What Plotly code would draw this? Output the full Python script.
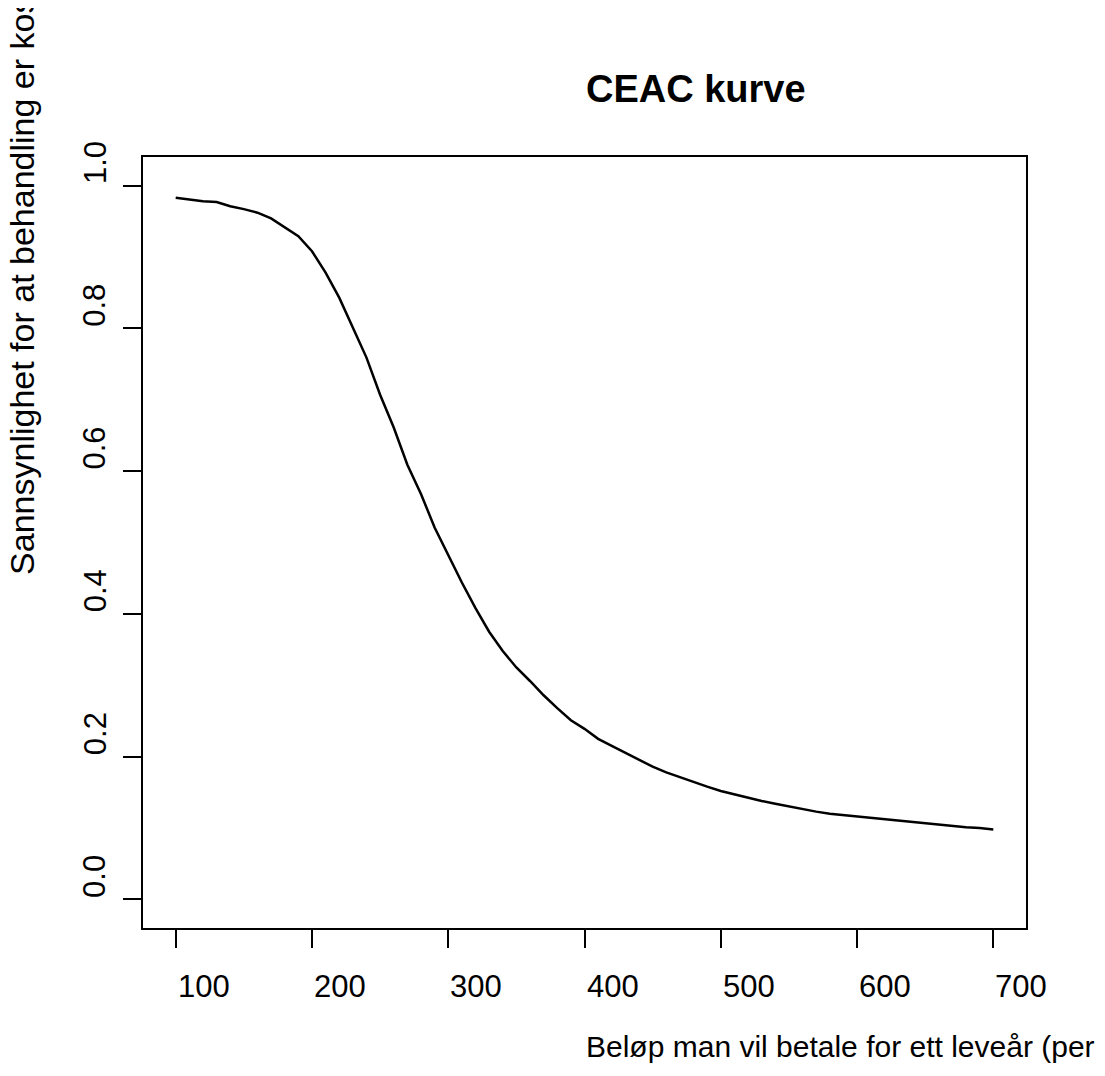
import plotly.graph_objects as go

# betalingsvilje (x) og sannsynlighet for kostnadseffektiv behandling (y)
wtp = [100, 110, 120, 130, 140, 150, 160, 170, 180, 190,
       200, 210, 220, 230, 240, 250, 260, 270, 280, 290,
       300, 310, 320, 330, 340, 350, 360, 370, 380, 390,
       400, 410, 420, 430, 440, 450, 460, 470, 480, 490,
       500, 510, 520, 530, 540, 550, 560, 570, 580, 590,
       600, 610, 620, 630, 640, 650, 660, 670, 680, 690, 700]
prob = [0.983, 0.980, 0.978, 0.977, 0.971, 0.967, 0.962, 0.954, 0.941, 0.929,
        0.908, 0.878, 0.843, 0.800, 0.759, 0.707, 0.661, 0.609, 0.568, 0.521,
        0.482, 0.444, 0.408, 0.375, 0.348, 0.325, 0.306, 0.286, 0.268, 0.251,
        0.239, 0.225, 0.215, 0.205, 0.195, 0.186, 0.178, 0.171, 0.165, 0.158,
        0.152, 0.147, 0.142, 0.138, 0.134, 0.130, 0.127, 0.123, 0.120, 0.118,
        0.116, 0.114, 0.112, 0.110, 0.108, 0.106, 0.104, 0.102, 0.101, 0.100, 0.098]

x_ticks = [100, 200, 300, 400, 500, 600, 700]
x_ticktext = ["100", "200", "300", "400", "500", "600", "700"]
y_ticks = [0.0, 0.2, 0.4, 0.6, 0.8, 1.0]
y_ticktext = ["0.0", "0.2", "0.4", "0.6", "0.8", "1.0"]

title = "CEAC kurve"
xlab = "Beløp man vil betale for ett leveår (per"
ylab = "Sannsynlighet for at behandling er kostnadseffektiv"

font = "Liberation Sans, Arial, sans-serif"

fig = go.Figure()
fig.add_trace(go.Scatter(x=wtp, y=prob, mode="lines",
                         line=dict(color="black", width=2.5), showlegend=False))

axis_common = dict(showgrid=False, zeroline=False, showline=True, mirror=True,
                   linecolor="black", linewidth=2, ticks="outside", ticklen=18,
                   tickwidth=2, tickcolor="black", showticklabels=False)

fig.update_xaxes(range=[76, 724], tickvals=x_ticks, **axis_common)
fig.update_yaxes(range=[-0.04, 1.04], tickvals=y_ticks, **axis_common)

# tick labels start at the tick (as in the original R output)
for v, t in zip(x_ticks, x_ticktext):
    fig.add_annotation(text=t, x=v, xref="x", y=-0.0765, yref="paper",
                       xanchor="left", yanchor="middle", showarrow=False,
                       font=dict(family=font, size=31, color="black"))
for v, t in zip(y_ticks, y_ticktext):
    fig.add_annotation(text=t, x=-0.0544, xref="paper", y=v, yref="y",
                       textangle=-90, xanchor="center", yanchor="bottom",
                       showarrow=False, font=dict(family=font, size=31, color="black"))

fig.add_annotation(text="<b>" + title + "</b>", xref="paper", yref="paper",
                   x=0.4995, y=1.0888, xanchor="left", yanchor="middle",
                   showarrow=False, font=dict(family=font, size=38, color="black"))
fig.add_annotation(text=xlab, xref="paper", yref="paper",
                   x=0.4995, y=-0.154, xanchor="left", yanchor="middle",
                   showarrow=False, font=dict(family=font, size=30, color="black"))
fig.add_annotation(text=ylab, xref="paper", yref="paper", textangle=-90,
                   x=-0.1365, y=0.4553, xanchor="center", yanchor="bottom",
                   showarrow=False, font=dict(family=font, size=34, color="black"))

# page body has an 8px margin, so margins are shifted to keep the plot box in place
fig.update_layout(width=1105, height=1076, plot_bgcolor="white", paper_bgcolor="white",
                  margin=dict(l=135, r=87, t=149, b=156))

fig.write_html("out.html")
